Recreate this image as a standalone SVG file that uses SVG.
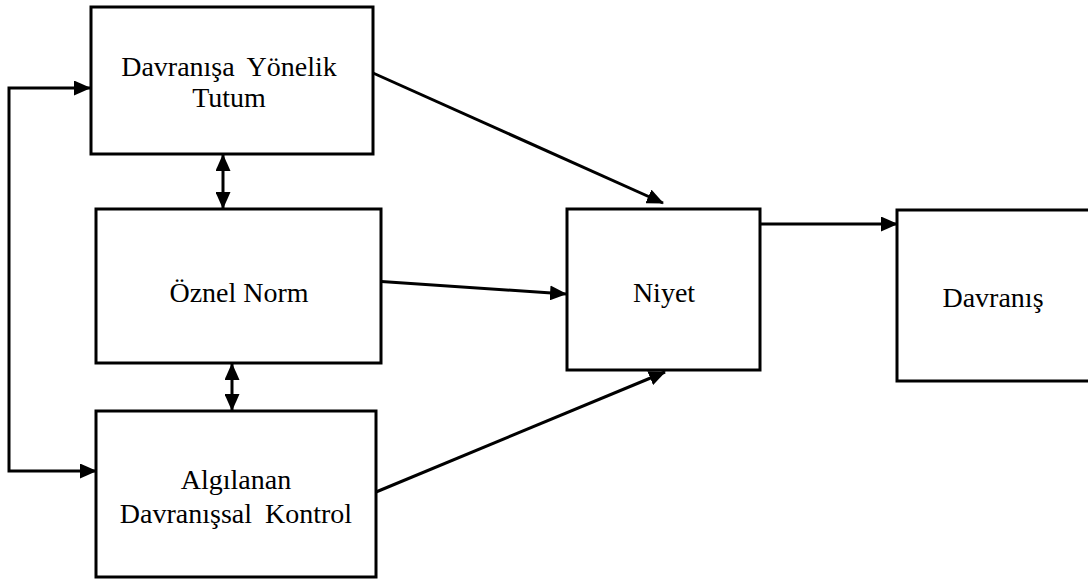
<svg xmlns="http://www.w3.org/2000/svg" width="1088" height="582" viewBox="0 0 1088 582">
  <style>
    .box { fill: #ffffff; stroke: #000000; stroke-width: 3; }
    .lbl { font-size: 28px; fill: #000000; text-anchor: middle; }
    .wide { word-spacing: 6px; }
    .conn { fill: none; stroke: #000000; stroke-width: 3; marker-end: url(#arrow); }
    .both { marker-start: url(#arrow); }
  </style>
  <defs>
    <marker id="arrow" viewBox="0 0 17 15" refX="16" refY="7.5" markerWidth="17" markerHeight="15" markerUnits="userSpaceOnUse" orient="auto-start-reverse">
      <path d="M0,0 L17,7.5 L0,15 z" fill="#000000"/>
    </marker>
  </defs>

  <rect width="1088" height="582" fill="#ffffff"/>

  <g id="connectors">
    <!-- feedback loop between attitude and perceived control -->
    <path class="conn both" d="M 90,88 H 9 V 471 H 96"/>
    <!-- correlations between the three predictors -->
    <path class="conn both" d="M 223,155 V 208"/>
    <path class="conn both" d="M 232,364 V 410"/>
    <!-- predictors to intention -->
    <path class="conn" d="M 373,73 L 663,203"/>
    <path class="conn" d="M 374,281 L 566,294"/>
    <path class="conn" d="M 376,492 L 665,372"/>
    <!-- intention to behaviour -->
    <path class="conn" d="M 760,224 H 897"/>
  </g>

  <g font-family="'Liberation Serif', 'Times New Roman', 'DejaVu Serif', serif">
    <g id="tutum">
      <rect class="box" x="91" y="7" width="282" height="147"/>
      <text class="lbl wide" x="229" y="76">Davranışa Yönelik</text>
      <text class="lbl" x="229" y="107">Tutum</text>
    </g>

    <g id="oznel-norm">
      <rect class="box" x="96" y="209" width="285" height="154"/>
      <text class="lbl" x="239" y="302">Öznel Norm</text>
    </g>

    <g id="algilanan-kontrol">
      <rect class="box" x="96" y="411" width="280" height="166"/>
      <text class="lbl" x="236" y="489">Algılanan</text>
      <text class="lbl wide" x="236" y="523">Davranışsal Kontrol</text>
    </g>

    <g id="niyet">
      <rect class="box" x="567" y="209" width="193" height="161"/>
      <text class="lbl" x="664" y="302">Niyet</text>
    </g>

    <g id="davranis">
      <rect class="box" x="897" y="210" width="200" height="171"/>
      <text class="lbl" x="993" y="307">Davranış</text>
    </g>
  </g>
</svg>
